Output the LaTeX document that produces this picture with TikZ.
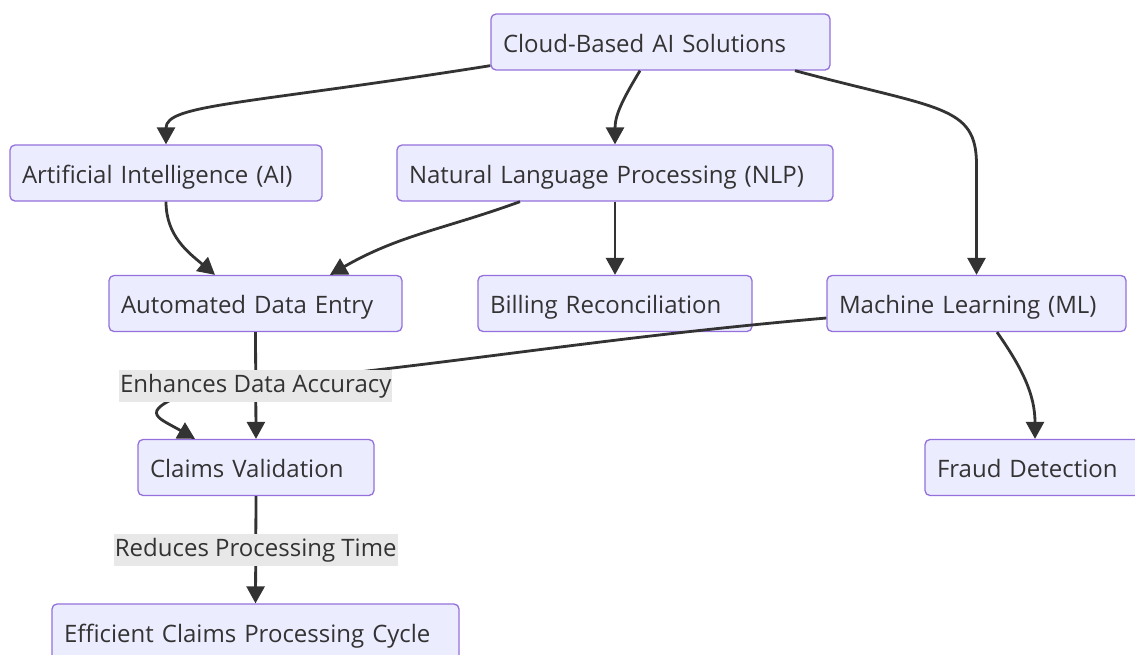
\documentclass[tikz,border=0pt]{standalone}
\usepackage{fontspec}
\setmainfont{Open Sans}
\usepackage{xcolor}
\usepackage{tikz}
\usetikzlibrary{calc}
\usetikzlibrary{arrows.meta}
\definecolor{boxfill}{HTML}{ECECFF}
\definecolor{boxline}{HTML}{9370DB}
\definecolor{edgecol}{HTML}{333333}
\definecolor{lblfill}{HTML}{E8E8E8}
\tikzset{box/.style={draw=boxline, fill=boxfill, rounded corners=5pt, line width=1.3pt, minimum height=56pt, inner xsep=12pt, inner ysep=0pt, text height=22pt, text depth=2pt, align=left, text=edgecol, font=\fontsize{24}{29}\selectfont}}
\tikzset{lbl/.style={fill=lblfill, inner xsep=1pt, inner ysep=4pt, text height=19pt, text depth=5pt, text=edgecol, font=\fontsize{24}{29}\selectfont}}
\tikzset{edge/.style={draw=edgecol, line width=2.8pt, -{Triangle[length=17pt,width=18pt]}}}

\begin{document}
\begin{tikzpicture}[x=1pt, y=-1pt]
\useasboundingbox (0,0) rectangle (1135,654);
\node[box, text width=315pt] (cloud) at (660.5,42) {Cloud-Based AI Solutions};
\node[box, text width=288pt] (ai) at (166,173) {Artificial Intelligence (AI)};
\node[box, text width=412pt] (nlp) at (615,173) {Natural Language Processing (NLP)};
\node[box, text width=269pt] (ade) at (255.5,303.5) {Automated Data Entry};
\node[box, text width=250pt] (bill) at (615,303.5) {Billing Reconciliation};
\node[box, text width=275pt] (ml) at (976.5,303.5) {Machine Learning (ML)};
\node[box, text width=212pt] (claims) at (256,467.5) {Claims Validation};
\node[box, text width=216pt] (fraud) at (1045,467.5) {Fraud Detection};
\node[box, text width=383pt] (eff) at (255.5,632) {Efficient Claims Processing Cycle};
\coordinate (mlbend) at (200,388);
\draw[edge] ([yshift=5pt]cloud.south west) .. controls +(171:250) and +(270:40) .. (ai.north);
\draw[edge] ([xshift=-20.5pt]cloud.south) to[out=239, in=90] (nlp.north);
\draw[edge] ([xshift=134.5pt]cloud.south) .. controls +(15:150) and +(270:60) .. ([yshift=110pt]ml.north) -- (ml.north);
\draw[edge] (ai.south) to[out=-90, in=140] ([xshift=-40.5pt]ade.north);
\draw[edge] ([xshift=-95pt]nlp.south) to[out=200, in=30] ([xshift=74.5pt]ade.north);
\draw[edge] (nlp.south) -- (bill.north);
\draw[edge, -] ([yshift=-14.5pt]ml.west) to[out=185, in=5] (mlbend);
\draw[edge] (mlbend) .. controls +(160:70) and +(210:45) .. ([xshift=-61pt]claims.north);
\draw[edge] (ade.south) -- node[lbl] (acc) {Enhances Data Accuracy} (claims.north);
\draw[edge] ([xshift=20.5pt]ml.south) to[out=-55, in=90] ([xshift=-10pt]fraud.north);
\draw[edge] (claims.south) -- node[lbl] (time) {Reduces Processing Time} (eff.north);
\end{tikzpicture}
\end{document}
